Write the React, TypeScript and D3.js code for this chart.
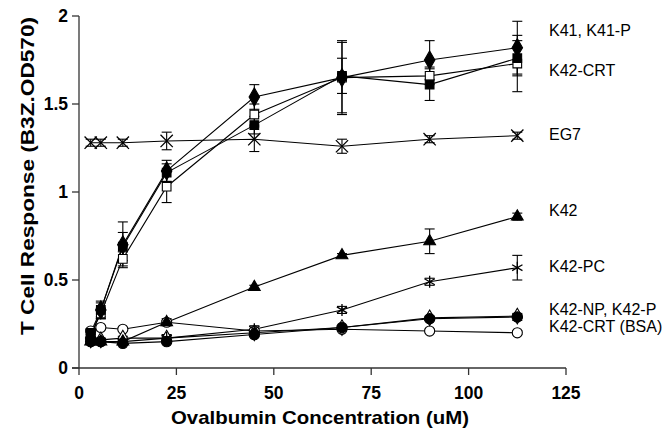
import React from 'react'
import * as d3 from 'd3'

// Ovalbumin concentrations (uM)
const conc = [3, 5.6, 11.25, 22.5, 45, 67.5, 90, 112.5]

const k41 = [0.17, 0.33, 0.70, 1.12, 1.54, 1.65, 1.75, 1.82]
const k41Err = [0.02, 0.04, 0.13, 0.06, 0.07, 0.2, 0.11, 0.15]
const k41p = [0.20, 0.33, 0.69, 1.11, 1.38, 1.66, 1.61, 1.76]
const k41pErr = [0.02, 0.05, 0.08, 0.05, 0.05, 0.1, 0.09, 0.1]
const k42crt = [0.19, 0.31, 0.62, 1.03, 1.44, 1.65, 1.66, 1.73]
const k42crtErr = [0.02, 0.03, 0.04, 0.09, 0.06, 0.21, 0.05, 0.16]
const eg7 = [1.28, 1.28, 1.28, 1.29, 1.30, 1.26, 1.30, 1.32]
const eg7Err = [0.02, 0.02, 0.02, 0.05, 0.07, 0.04, 0.02, 0.02]
const k42 = [0.15, 0.15, 0.15, 0.26, 0.46, 0.64, 0.72, 0.86]
const k42Err = [0.01, 0.01, 0.01, 0.02, 0.01, 0.01, 0.07, 0.02]
const k42pc = [0.15, 0.15, 0.15, 0.17, 0.22, 0.33, 0.49, 0.57]
const k42pcErr = [0.01, 0.01, 0.01, 0.02, 0.02, 0.02, 0.02, 0.07]
const k42np = [0.15, 0.15, 0.14, 0.15, 0.19, 0.23, 0.28, 0.29]
const k42npErr = [0.01, 0.01, 0.01, 0.01, 0.01, 0.01, 0.01, 0.02]
const k42p = [0.16, 0.16, 0.17, 0.17, 0.20, 0.23, 0.285, 0.295]
const k42pErr = [0.01, 0.01, 0.01, 0.01, 0.01, 0.01, 0.01, 0.01]
const bsa = [0.21, 0.23, 0.22, 0.26, 0.21, 0.22, 0.21, 0.20]
const bsaErr = [0.01, 0.01, 0.01, 0.01, 0.01, 0.01, 0.01, 0.01]

const xTicks = [0, 25, 50, 75, 100, 125]
const yTicks = [0, 0.5, 1, 1.5, 2]

const labels = [
  { text: 'K41, K41-P', y: 1.92 },
  { text: 'K42-CRT', y: 1.69 },
  { text: 'EG7', y: 1.33 },
  { text: 'K42', y: 0.895 },
  { text: 'K42-PC', y: 0.58 },
  { text: 'K42-NP, K42-P', y: 0.333 },
  { text: 'K42-CRT (BSA)', y: 0.235 },
]

type Series = { values: number[]; err: number[]; symbol: d3.SymbolType; size: number; fill: string; stroke?: boolean }

const series: Series[] = [
  { values: bsa, err: bsaErr, symbol: d3.symbolCircle, size: 80, fill: 'white' },
  { values: k42p, err: k42pErr, symbol: d3.symbolDiamond, size: 70, fill: 'white' },
  { values: k42np, err: k42npErr, symbol: d3.symbolCircle, size: 85, fill: 'black' },
  { values: k42pc, err: k42pcErr, symbol: d3.symbolAsterisk, size: 100, fill: 'none', stroke: true },
  { values: k42, err: k42Err, symbol: d3.symbolTriangle, size: 60, fill: 'black' },
  { values: eg7, err: eg7Err, symbol: d3.symbolX, size: 100, fill: 'none', stroke: true },
  { values: k42crt, err: k42crtErr, symbol: d3.symbolSquare, size: 75, fill: 'white' },
  { values: k41p, err: k41pErr, symbol: d3.symbolSquare, size: 75, fill: 'black' },
  { values: k41, err: k41Err, symbol: d3.symbolDiamond, size: 95, fill: 'black' },
]

export default function App() {
  const x = d3.scaleLinear().domain([0, 125]).range([79, 566])
  const y = d3.scaleLinear().domain([0, 2]).range([368, 16])
  const line = d3.line<number>().x((_, i) => x(conc[i])).y(d => y(d))
  const axisColor = '#333'
  const font = 'Liberation Sans, Arial, sans-serif'

  return (
    <svg width={665} height={431} style={{ position: 'absolute', left: 0, top: 0, background: 'white' }} fontFamily={font}>
      {/* axes */}
      <line x1={79} x2={79} y1={y(2)} y2={y(0)} stroke={axisColor} strokeWidth={1.3} />
      <line x1={72} x2={x(125)} y1={y(0)} y2={y(0)} stroke={axisColor} strokeWidth={1.3} />
      {yTicks.map(t => (
        <g key={'y' + t}>
          <line x1={72} x2={79} y1={y(t)} y2={y(t)} stroke={axisColor} strokeWidth={1.3} />
          <text x={68} y={y(t)} dy="0.36em" textAnchor="end" fontSize={17.5} fontWeight="bold">{t}</text>
        </g>
      ))}
      {xTicks.map(t => (
        <g key={'x' + t}>
          <line x1={x(t)} x2={x(t)} y1={y(0)} y2={y(0) + 7} stroke={axisColor} strokeWidth={1.3} />
          <text x={x(t)} y={399} textAnchor="middle" fontSize={17.5} fontWeight="bold">{t}</text>
        </g>
      ))}
      <text x={320} y={424} textAnchor="middle" fontSize={19} fontWeight="bold"
        textLength={298} lengthAdjust="spacingAndGlyphs">Ovalbumin Concentration (uM)</text>
      <text transform="translate(34,176) rotate(-90)" textAnchor="middle" fontSize={19} fontWeight="bold"
        textLength={318} lengthAdjust="spacingAndGlyphs">T Cell Response (B3Z.OD570)</text>

      {/* lines */}
      {series.map((s, i) => (
        <path key={'l' + i} d={line(s.values) ?? ''} fill="none" stroke="black" strokeWidth={1.1} />
      ))}
      {/* error bars */}
      {series.map((s, i) => (
        <g key={'e' + i} stroke="black" strokeWidth={1.1}>
          {s.values.map((v, j) => {
            const cx = x(conc[j])
            const top = y(v + s.err[j])
            const bot = y(v - s.err[j])
            return (
              <g key={j}>
                <line x1={cx} x2={cx} y1={top} y2={bot} />
                <line x1={cx - 5} x2={cx + 5} y1={top} y2={top} />
                <line x1={cx - 5} x2={cx + 5} y1={bot} y2={bot} />
              </g>
            )
          })}
        </g>
      ))}
      {/* markers */}
      {series.map((s, i) => (
        <g key={'m' + i}>
          {s.values.map((v, j) => (
            <path key={j}
              transform={`translate(${x(conc[j])},${y(v)})`}
              d={d3.symbol(s.symbol, s.size)() ?? ''}
              fill={s.fill}
              stroke="black"
              strokeWidth={s.stroke ? 1.3 : 1.1} />
          ))}
        </g>
      ))}
      {/* series labels */}
      {labels.map(l => (
        <text key={l.text} x={549} y={y(l.y)} dy="0.36em" fontSize={16}>{l.text}</text>
      ))}
    </svg>
  )
}
